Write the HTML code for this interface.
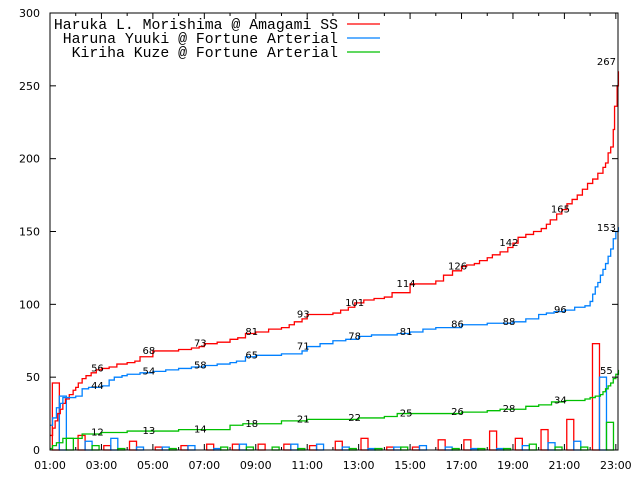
<!DOCTYPE html>
<html><head><meta charset="utf-8"><style>
body{margin:0;background:#fff;}
svg{display:block;}
.tk{font-family:"DejaVu Sans","Liberation Sans",sans-serif;font-size:11px;fill:#000;}
.lg{font-family:"Liberation Mono",monospace;font-size:14.8px;fill:#000;}
.vl{font-family:"DejaVu Sans","Liberation Sans",sans-serif;font-size:10px;fill:#000;}
</style></head><body>
<svg id="chart" width="640" height="480" viewBox="0 0 640 480"></svg>
<script>
// hours since 01:00 -> cumulative value
const redT=[0,0.1,0.2,0.3,0.4,0.5,0.6,0.75,0.9,1,1.1,1.25,1.4,1.6,1.8,2,2.3,2.6,3,3.2,3.3,3.5,4,4.5,5,5.5,5.8,6,6.5,6.75,7,7.3,7.6,8,8.5,9,9.3,9.5,9.8,10,10.5,11,11.3,11.6,11.85,12.2,12.6,13,13.3,14,15,15.3,15.65,16,16.2,16.5,16.7,17,17.2,17.5,17.8,18,18.2,18.5,18.8,19.1,19.3,19.45,19.7,19.9,20.1,20.3,20.5,20.7,20.9,21.1,21.3,21.5,21.6,21.7,21.8,21.9,21.95,22.05,22.1];
const redV=[10,15,20,25,28,32,35,38,41,43,46,49,51,53,55,56,57,59,60,60,61,64,68,68,69,70,71,73,74,74,76,77,80,81,83,84,86,88,90,93,93,94,96,98,101,103,104,105,108,114,116,120,123,126,127,128,130,132,134,136,139,142,146,148,150,152,155,158,162,165,169,172,175,179,183,186,190,194,197,204,208,220,236,250,260,267];
const blueT=[0,0.1,0.25,0.4,0.5,0.75,1,1.25,1.5,2,2.3,2.5,2.8,3,3.5,4,4.5,5,5.5,6,6.5,7,7.25,7.6,8,9,9.5,9.8,10,10.5,11,11.5,12,12.5,13,13.5,14,14.5,15,16,17,18,18.5,19,19.3,19.6,20,20.4,20.8,21,21.1,21.2,21.3,21.4,21.5,21.6,21.7,21.8,21.9,22,22.1];
const blueV=[17,22,29,32,36,36,37,42,43,44,48,50,51,52,53,54,55,56,57,58,59,60,61,64,65,66,66,68,71,73,75,76,78,79,79,80,81,83,84,86,87,88,90,93,94,95,96,98,99,102,107,112,115,120,124,128,133,138,145,150,153];
const greenT=[0,0.1,0.25,0.5,1,1.25,2,3,4,5,6,7,7.5,8,9,10,11,12,13,13.5,14,15,16,17,17.5,18,18.5,19,19.5,20,20.8,21,21.2,21.4,21.5,21.6,21.7,21.8,21.9,22,22.1];
const greenV=[1,3,5,8,8,11,12,13,13,14,14,17,18,18,20,21,21,22,23,25,25,25,26,27,28,28,30,31,33,34,35,36,37,38,40,42,44,46,49,52,55];
// hourly histogram counts (hour index from 01:00)
const redBars=[46,10,3,6,2,3,4,4,4,4,3,6,8,2,2,7,7,13,8,14,21,73];
const blueBars=[37,6,8,2,2,3,1,4,0,4,4,2,1,2,3,2,1,1,3,5,6,50];
const greenBars=[8,3,1,0,1,0,2,2,2,1,0,1,1,2,0,1,1,1,4,2,2,19];
const xTickLabels=["01:00","03:00","05:00","07:00","09:00","11:00","13:00","15:00","17:00","19:00","21:00","23:00"];
const yTicks=[0,50,100,150,200,250,300];
const labelHours=[2,4,6,8,10,12,14,16,18,20];
const seriesNames=["Haruka L. Morishima @ Amagami SS","Haruna Yuuki @ Fortune Arterial","Kiriha Kuze @ Fortune Arterial"];
const colors=["#ff0000","#0080ff","#00c000"];

const NS="http://www.w3.org/2000/svg";
const svg=document.getElementById('chart');
const L=50,R=618,T=13,B=450,HW=25.72;
const X=t=>L+t*HW;
const Y=v=>B-v*(B-T)/300;
function mk(tag,attrs,parent){const e=document.createElementNS(NS,tag);for(const k in attrs)e.setAttribute(k,attrs[k]);(parent||svg).appendChild(e);return e;}

const barSets=[redBars,blueBars,greenBars];
barSets.forEach((arr,si)=>{
  const g=mk('g',{});
  
  
  arr.forEach((v,k)=>{
    const c=X(k+0.5)+(si-1)*7;
    const r=mk('rect',{x:c-3.5,y:Y(v),width:7,height:B-Y(v),fill:'none',stroke:colors[si],'stroke-width':1.3},g);
    
    
  });
});

const series=[[redT,redV],[blueT,blueV],[greenT,greenV]];
series.forEach(([ts,vs],si)=>{
  let d='M'+X(ts[0])+' '+Y(vs[0]);
  for(let i=1;i<ts.length;i++){d+=' H'+X(ts[i])+' V'+Y(vs[i]);}
  const p=mk('path',{d:d,fill:'none',stroke:colors[si],'stroke-width':1.3});
  
  
  const valAt=t=>{let v=vs[0];for(let i=0;i<ts.length;i++){if(ts[i]<=t)v=vs[i];}return v;};
  labelHours.forEach(h=>{
    const v=valAt(h);
    const tx=mk('text',{x:X(h)-4,y:Y(v)+3,'text-anchor':'middle',class:'vl'});
    tx.textContent=v;
    
    
  });
  const last=vs[vs.length-1];
  const tx=mk('text',{x:X(ts[ts.length-1])-12,y:Y(last)+4,'text-anchor':'middle',class:'vl'});
  tx.textContent=last;
  
  
});

const fr=mk('rect',{x:L,y:T,width:R-L,height:B-T,fill:'none',stroke:'#000','stroke-width':1});


for(let h=0;h<=22;h++){
  const len=h%2===0?6:3;
  mk('line',{x1:X(h),x2:X(h),y1:B,y2:B-len,stroke:'#000'});
  mk('line',{x1:X(h),x2:X(h),y1:T,y2:T+len,stroke:'#000'});
}
xTickLabels.forEach((s,i)=>{
  const t=mk('text',{x:X(i*2),y:469,'text-anchor':'middle',class:'tk'});
  t.textContent=s;
  
  
});
yTicks.forEach(v=>{
  mk('line',{x1:L,x2:L+6,y1:Y(v),y2:Y(v),stroke:'#000'});
  mk('line',{x1:R,x2:R-6,y1:Y(v),y2:Y(v),stroke:'#000'});
  const t=mk('text',{x:40,y:Y(v)+4,'text-anchor':'end',class:'tk'});
  t.textContent=v;
  
  
});

seriesNames.forEach((n,i)=>{
  const y=24+i*14;
  const t=mk('text',{x:338,y:y+5,'text-anchor':'end',class:'lg'});
  t.textContent=n;
  
  
  const l=mk('line',{x1:347,x2:380,y1:y,y2:y,stroke:colors[i],'stroke-width':1.3});
  
  
});
</script>
</body></html>
